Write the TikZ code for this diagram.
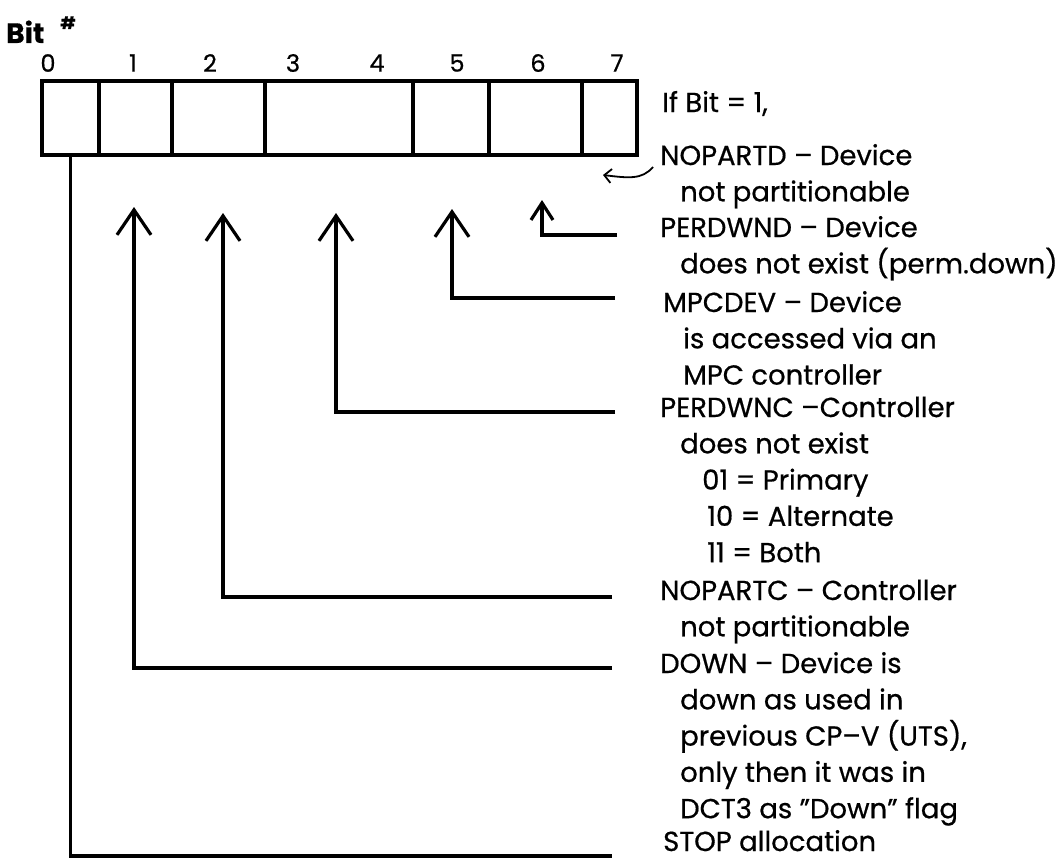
\documentclass[tikz,border=0pt]{standalone}
\usepackage{fontspec}
\setmainfont{Poppins}[FakeBold=0.6]
\usetikzlibrary{arrows.meta, positioning}

\tikzset{
  cell/.style={draw, line width=3.2pt, minimum height=74pt, inner sep=0pt, outer sep=0pt},
  bitnum/.style={font=\fontsize{24pt}{24pt}\selectfont},
  desc/.style={anchor=base west, align=left, inner sep=0pt, font=\fontsize{27.5pt}{36.3pt}\selectfont},
  bitline/.style={line width=3.2pt},
  bitarrow/.style={line width=3.2pt, -{Straight Barb[length=25pt, width=34pt]}}
}

\begin{document}
\begin{tikzpicture}[x=1pt, y=-1pt]
  \useasboundingbox (0,0) rectangle (1059,859);
  % register, bit 0 to bit 7
  \node[cell, minimum width=57pt, anchor=north west] (c0) at (42,81) {};
  \node[cell, minimum width=73pt, right=0pt of c0] (c1) {};
  \node[cell, minimum width=93pt, right=0pt of c1] (c2) {};
  \node[cell, minimum width=148pt, right=0pt of c2] (c34) {};
  \node[cell, minimum width=76pt, right=0pt of c34] (c5) {};
  \node[cell, minimum width=93pt, right=0pt of c5] (c6) {};
  \node[cell, minimum width=55pt, right=0pt of c6] (c7) {};
  \foreach \n/\x in {0/48, 1/133, 2/210, 3/293, 4/377, 5/457, 6/538, 7/617}
    \node[bitnum] (b\n) at (\x,63) {\n};
  \node[anchor=base west, inner sep=0pt, font=\fontsize{28pt}{28pt}\selectfont\bfseries] (bitlbl) at (6,43)
    {Bit\hspace{16pt}\raisebox{14pt}{\fontsize{17pt}{17pt}\selectfont\#}};

  % meanings (base = last line)
  \node[desc] (ifbit) at (662,112) {If Bit = 1,};
  \node[desc] (d7) at (660,201.3) {NOPARTD -- Device\\\hspace*{20pt}not partitionable};
  \node[desc] (d6) at (660,273.3) {PERDWND -- Device\\\hspace*{20pt}does not exist (perm.down)};
  \node[desc] (d5) at (663,384.6) {MPCDEV -- Device\\\hspace*{20pt}is accessed via an\\\hspace*{20pt}MPC controller};
  \node[desc] (d34) at (660,562.2) {PERDWNC --Controller\\\hspace*{20pt}does not exist\\
    \hspace*{42pt}01 = Primary\\\hspace*{47pt}10 = Alternate\\\hspace*{47pt}11 = Both};
  \node[desc] (d2) at (660,636.3) {NOPARTC -- Controller\\\hspace*{20pt}not partitionable};
  \node[desc] (d1) at (660,818.2) {DOWN -- Device is\\\hspace*{20pt}down as used in\\
    \hspace*{20pt}previous CP--V (UTS),\\\hspace*{20pt}only then it was in\\\hspace*{20pt}DCT3 as "Down" flag};
  \node[desc] (d0) at (663,851) {STOP allocation};

  % arrow tips and line ends
  \coordinate (t1) at (134,207);
  \coordinate (t2) at (223,213);
  \coordinate (t34) at (336,213);
  \coordinate (t5) at (452,209);
  \coordinate (t6) at (542,200);
  \coordinate (e0) at (612,856);
  \coordinate (e1) at (612,668);
  \coordinate (e2) at (612,597);
  \coordinate (e34) at (615,412);
  \coordinate (e5) at (615,298);
  \coordinate (e6) at (617,235);
  \coordinate (h7) at (653,167);

  \draw[bitline] (c0.south) |- (e0);
  \draw[bitarrow] (e1) -| (t1);
  \draw[bitarrow] (e2) -| (t2);
  \draw[bitarrow] (e34) -| (t34);
  \draw[bitarrow] (e5) -| (t5);
  \draw[bitarrow, -{Straight Barb[length=17pt, width=22pt]}] (e6) -| (t6);
  \draw[line width=1.8pt, -{Straight Barb[length=7pt, width=14pt]}] (h7) .. controls (642,180) and (628,178) .. (603,175);
\end{tikzpicture}
\end{document}
